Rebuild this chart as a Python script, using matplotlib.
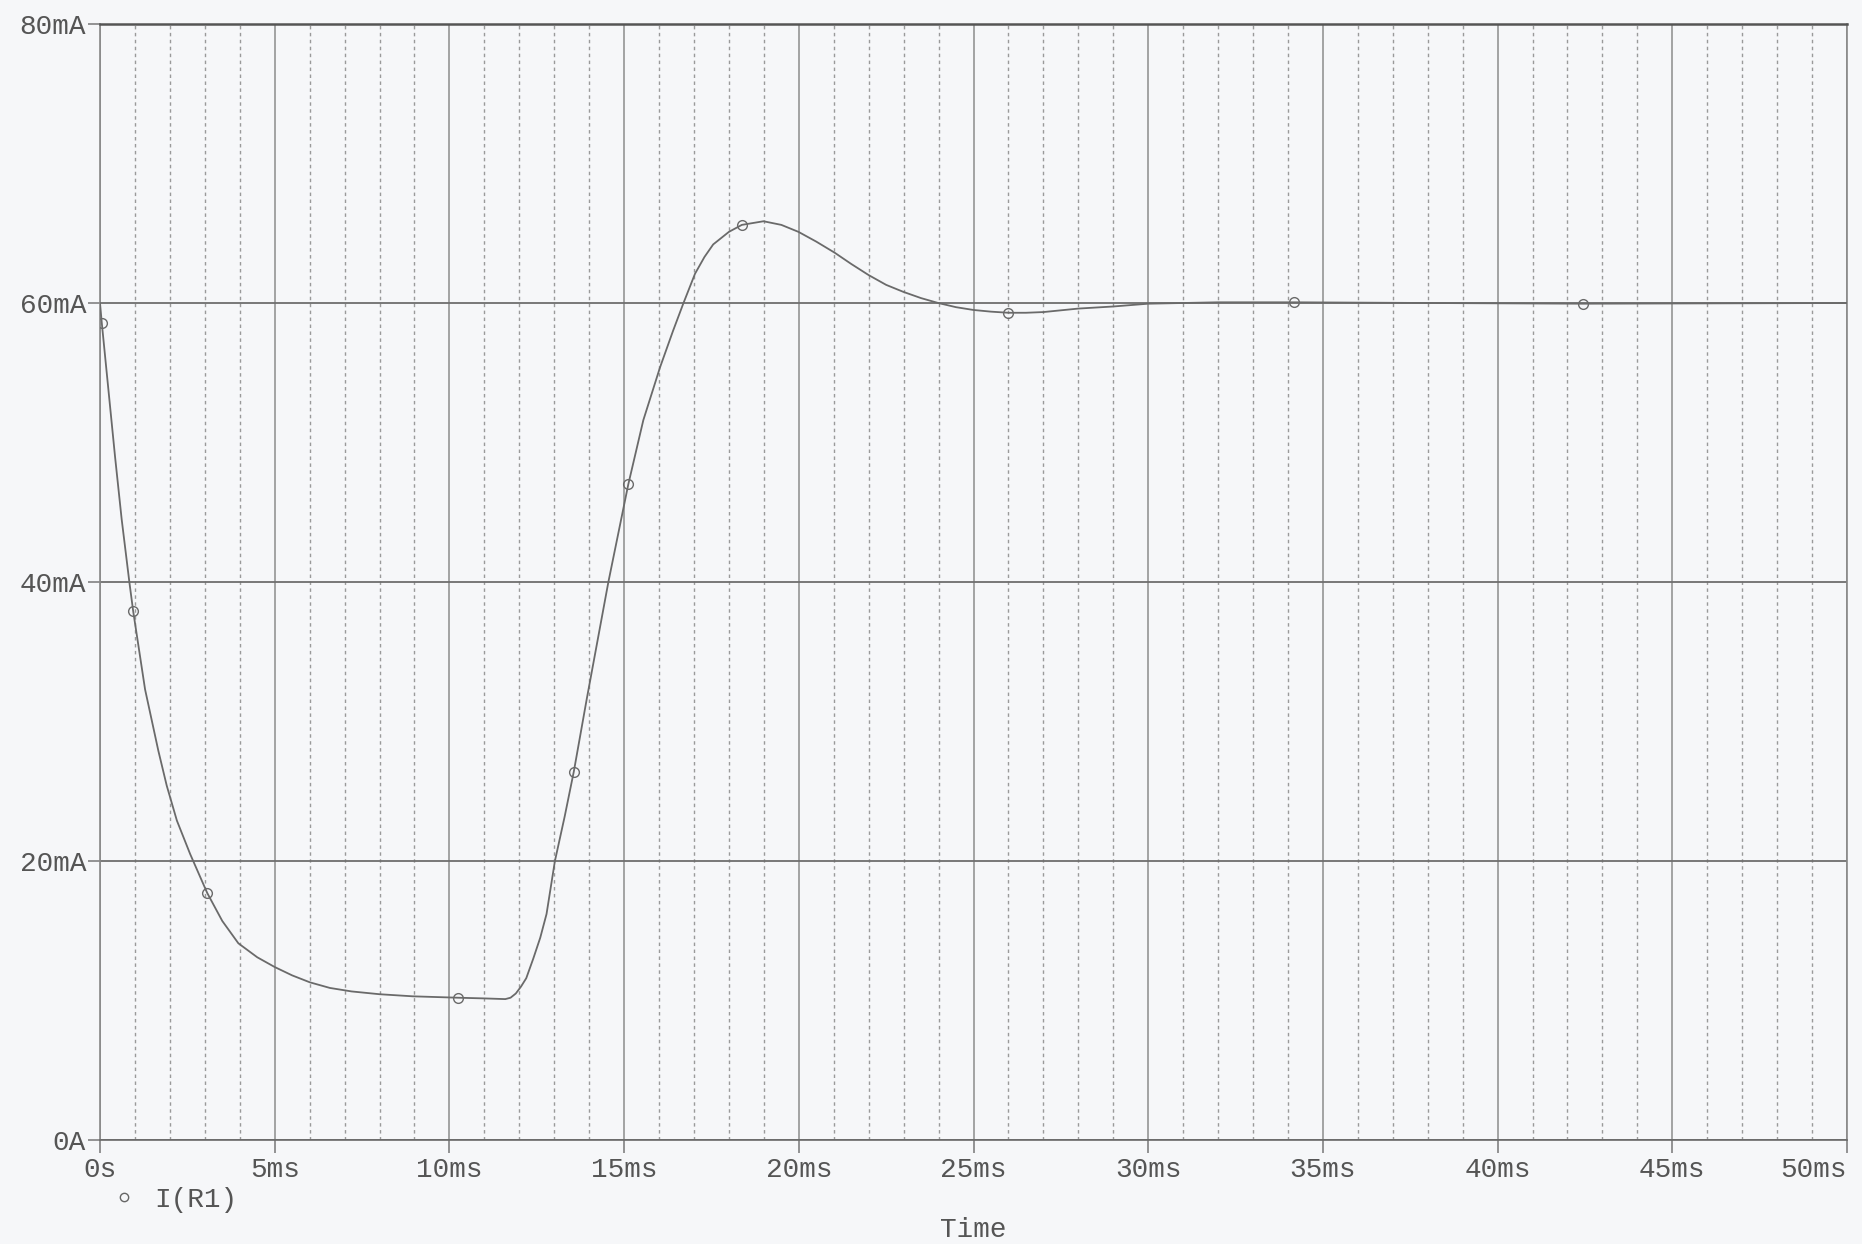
import matplotlib
matplotlib.use("Agg")
import matplotlib.pyplot as plt
from matplotlib.lines import Line2D
from matplotlib.ticker import MultipleLocator

# Curve: time (ms) and I(R1) (mA)
time_ms = [0.0, 0.05, 0.24, 0.43, 0.62, 0.84, 0.95, 1.29, 1.67, 1.91, 2.2,
           2.58, 3.07, 3.5, 3.96, 4.5, 5.0, 5.5, 6.01, 6.58, 7.2, 8.0, 8.95,
           10.24, 11.0, 11.6, 11.75, 11.9, 12.05, 12.2, 12.4, 12.6, 12.78,
           13.02, 13.3, 13.56, 13.93, 14.55, 15.12, 15.55, 16.03, 16.4, 16.7,
           17.03, 17.3, 17.55, 18.0, 18.37, 18.99, 19.5, 19.99, 20.5, 21.03,
           21.5, 22.0, 22.5, 22.99, 23.5, 23.99, 24.5, 25.0, 25.5, 26.0,
           26.5, 27.0, 28.0, 29.0, 30.0, 32.0, 34.17, 38.0, 42.45, 50.0]
current_ma = [60.0, 58.6, 53.8, 49.0, 44.5, 40.0, 37.9, 32.3, 27.9, 25.4,
              22.9, 20.5, 17.7, 15.7, 14.1, 13.1, 12.4, 11.8, 11.3, 10.9,
              10.65, 10.45, 10.3, 10.2, 10.15, 10.1, 10.2, 10.5, 11.0, 11.6,
              13.0, 14.5, 16.2, 20.0, 23.2, 26.4, 31.6, 40.0, 47.0, 51.6,
              55.4, 58.0, 60.0, 62.1, 63.3, 64.2, 65.1, 65.6, 65.86, 65.6,
              65.1, 64.4, 63.6, 62.8, 62.0, 61.3, 60.8, 60.35, 60.0, 59.7,
              59.5, 59.38, 59.3, 59.3, 59.35, 59.6, 59.75, 59.95, 60.05,
              60.05, 60.0, 59.95, 60.0]

# Marker symbols drawn on the trace
marker_t = [0.05, 0.95, 3.07, 10.24, 13.56, 15.12, 18.37, 26.0, 34.17, 42.45]
marker_i = [58.6, 37.9, 17.7, 10.2, 26.4, 47.0, 65.6, 59.3, 60.05, 59.95]

x_ticks = [0, 5, 10, 15, 20, 25, 30, 35, 40, 45, 50]
x_labels = ['0s', '5ms', '10ms', '15ms', '20ms', '25ms', '30ms', '35ms',
            '40ms', '45ms', '50ms']
y_ticks = [0, 20, 40, 60, 80]
y_labels = ['0A', '20mA', '40mA', '60mA', '80mA']

plt.rcParams['font.family'] = ['Liberation Mono', 'DejaVu Sans Mono']
bg = '#f6f7f9'
txt = '#555555'

fig = plt.figure(figsize=(18.62, 12.44), dpi=100, facecolor=bg)
ax = fig.add_axes([100 / 1862, 1 - 1140 / 1244, 1747 / 1862, 1116 / 1244])
ax.set_facecolor(bg)

ax.set_xlim(0, 50)
ax.set_ylim(0, 80)
ax.set_xticks(x_ticks)
ax.set_xticklabels(x_labels)
ax.set_yticks(y_ticks)
ax.set_yticklabels(y_labels)
ax.xaxis.set_minor_locator(MultipleLocator(1))

# grid: solid every 5ms / 20mA, dotted every 1ms
ax.grid(which='major', axis='x', color='#8c8c8c', linewidth=1.1, linestyle='-')
ax.grid(which='minor', axis='x', color='#9a9a9a', linewidth=1.0, linestyle=(0, (2.5, 2.5)))
ax.grid(which='major', axis='y', color='#6e6e6e', linewidth=1.3, linestyle='-')
ax.set_axisbelow(True)

ax.tick_params(axis='both', which='major', direction='out', length=9,
               width=1.1, color='#777777', labelcolor=txt, labelsize=20)
ax.tick_params(axis='x', which='major', pad=3)
ax.tick_params(axis='y', which='major', pad=1)
ax.tick_params(which='minor', length=0)
ax.get_xticklabels()[-1].set_ha('right')

for side, spine in ax.spines.items():
    spine.set_color('#6a6a6a')
    spine.set_linewidth(1.2)
ax.spines['top'].set_color('#555555')
ax.spines['top'].set_linewidth(1.8)
ax.spines['right'].set_color('#888888')
ax.spines['left'].set_color('#888888')

ax.plot(time_ms, current_ma, color='#6a6a6a', linewidth=1.3, zorder=3)
ax.plot(marker_t, marker_i, linestyle='none', marker='o', markersize=7,
        markerfacecolor='none', markeredgecolor='#6a6a6a', markeredgewidth=1.0,
        zorder=4)

handle = Line2D([], [], linestyle='none', marker='o', markersize=6,
                markerfacecolor='none', markeredgecolor='#666666', markeredgewidth=1.0)
fig.legend([handle], ['I(R1)'], loc='center left',
           bbox_to_anchor=(96 / 1862, 1 - 1200 / 1244), frameon=False,
           handlelength=1.0, handletextpad=0.6, borderpad=0,
           prop={'size': 20}, labelcolor=txt)

fig.text(0.5228, 1 - 1230 / 1244, 'Time', ha='center', va='center',
         fontsize=20, color=txt)

fig.savefig('out.png', dpi=100, facecolor=bg)
